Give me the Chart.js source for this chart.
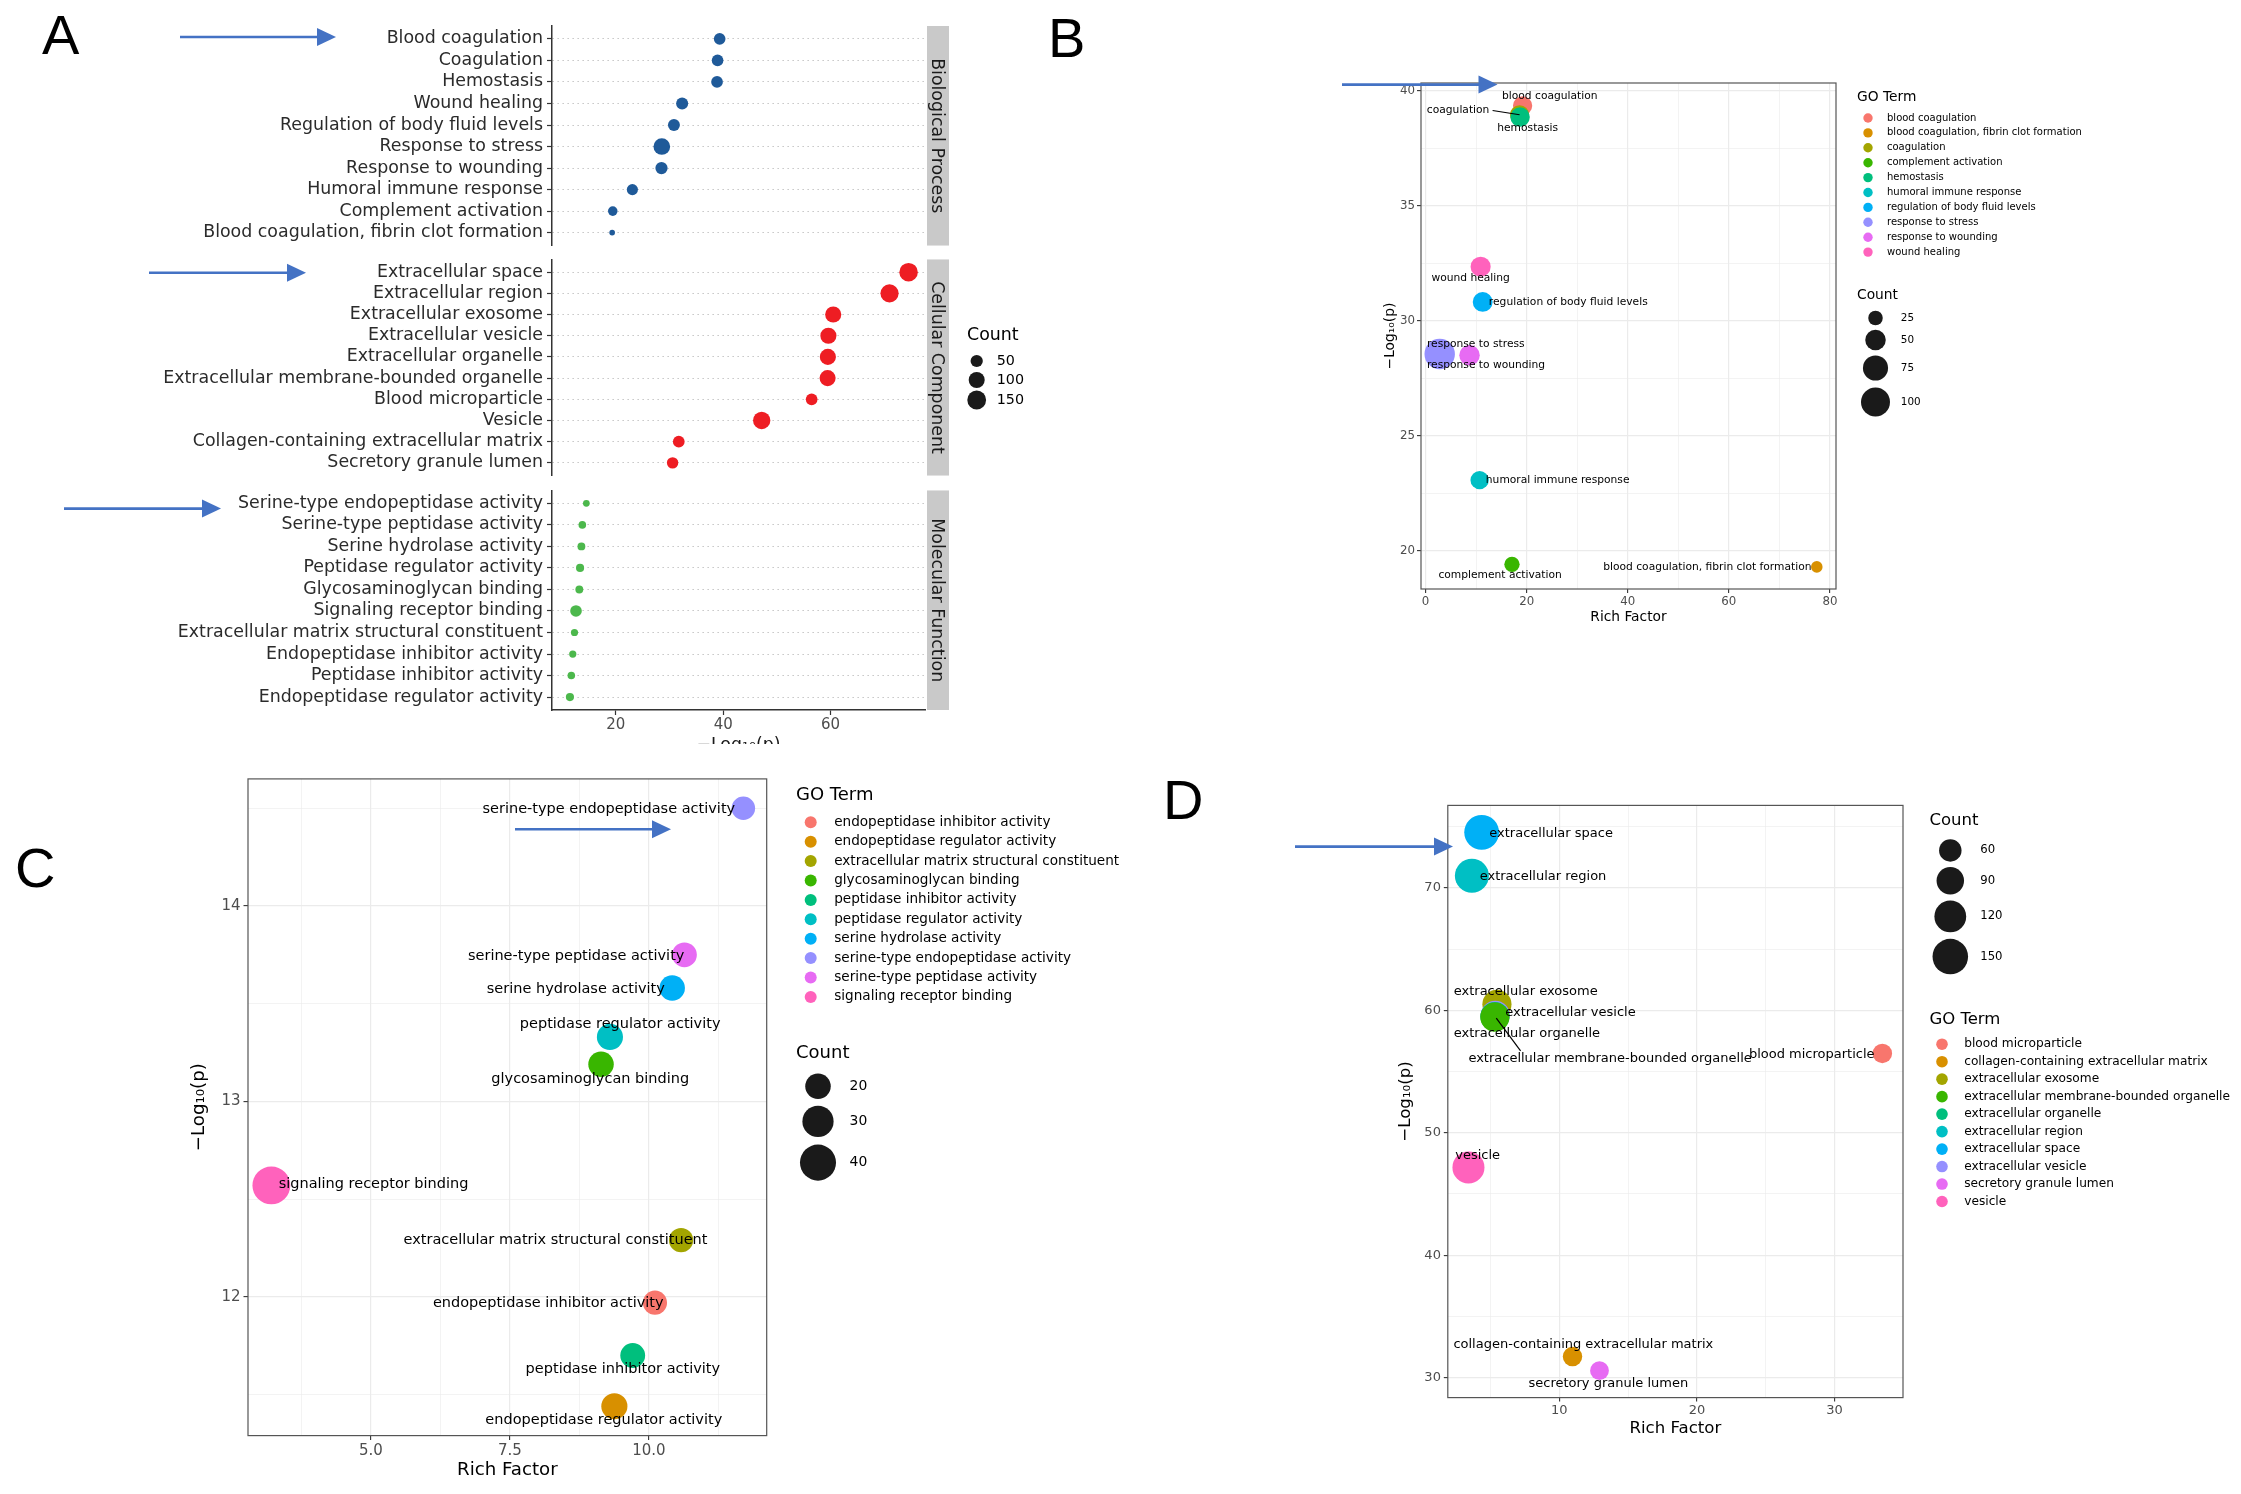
<!DOCTYPE html>
<html><head><meta charset="utf-8">
<script src="https://cdn.jsdelivr.net/npm/chart.js@4.4.1/dist/chart.umd.min.js"></script>
<style>
html,body{margin:0;padding:0;background:#fff;}
body{width:2241px;height:1494px;position:relative;overflow:hidden;font-family:"DejaVu Sans";}
canvas{position:absolute;}
.wrap{position:absolute;overflow:hidden;}
.letter{position:absolute;font-family:"Liberation Sans",Arial,sans-serif;font-size:56px;line-height:1;color:#000;}
svg{position:absolute;left:0;top:0;}
</style></head><body>
<div class="letter" style="left:42px;top:7px">A</div>
<div class="letter" style="left:1048px;top:10px">B</div>
<div class="letter" style="left:15px;top:840px">C</div>
<div class="letter" style="left:1163px;top:772px">D</div>
<script>
// ---------------- DATA ----------------
const facetNames = ["Biological Process","Cellular Component","Molecular Function"];

const bpTerms = ["Blood coagulation","Coagulation","Hemostasis","Wound healing","Regulation of body fluid levels","Response to stress","Response to wounding","Humoral immune response","Complement activation","Blood coagulation, fibrin clot formation"];
const bpLogP  = [39.34, 38.95, 38.85, 32.35, 30.82, 28.56, 28.50, 23.08, 19.42, 19.31];
const bpRich  = [19.2, 18.6, 18.7, 10.9, 11.3, 2.8, 8.7, 10.7, 17.1, 77.4];
const bpCount = [44, 44, 45, 48, 47, 110, 50, 40, 28, 16];

const ccTerms = ["Extracellular space","Extracellular region","Extracellular exosome","Extracellular vesicle","Extracellular organelle","Extracellular membrane-bounded organelle","Blood microparticle","Vesicle","Collagen-containing extracellular matrix","Secretory granule lumen"];
const ccLogP  = [74.54, 70.99, 60.50, 59.60, 59.50, 59.45, 56.48, 47.17, 31.72, 30.57];
const ccRich  = [4.36, 3.65, 5.47, 5.35, 5.32, 5.32, 33.47, 3.40, 10.96, 12.92];
const ccCount = [144, 138, 101, 101, 101, 101, 45, 122, 45, 42];

const mfTerms = ["Serine-type endopeptidase activity","Serine-type peptidase activity","Serine hydrolase activity","Peptidase regulator activity","Glycosaminoglycan binding","Signaling receptor binding","Extracellular matrix structural constituent","Endopeptidase inhibitor activity","Peptidase inhibitor activity","Endopeptidase regulator activity"];
const mfLogP  = [14.50, 13.75, 13.58, 13.33, 13.19, 12.57, 12.29, 11.97, 11.70, 11.44];
const mfRich  = [11.70, 10.64, 10.42, 9.30, 9.14, 3.21, 10.58, 10.11, 9.71, 9.38];
const mfCount = [17, 19, 20, 21, 20, 44, 18, 18, 19, 21];

const countBreaksA = [50, 100, 150];
const countBreaksB = [25, 50, 75, 100];
const countBreaksC = [20, 30, 40];
const countBreaksD = [60, 90, 120, 150];

// ---------------- STYLE ----------------
const FONT = "DejaVu Sans";
const fnt = s => s + 'px "DejaVu Sans"';
Chart.defaults.font.family = FONT;
const hue10 = ["#F8766D","#D89000","#A3A500","#39B600","#00BF7D","#00BFC4","#00B0F6","#9590FF","#E76BF3","#FF62BC"];
const facetColors = ["#1F5A99","#EE1D23","#4CB84C"];
const rA = c => 2.8 + 6.6 * Math.sqrt(Math.max(0, c - 16) / 134);
const rB = c => 1.45 * Math.sqrt(c);
const rC = c => 2.85 * Math.sqrt(c);
const rD = c => 1.45 * Math.sqrt(c);

function mkCanvas(l, t, w, h, parent) {
  const c = document.createElement('canvas');
  c.width = w; c.height = h;
  c.style.left = l + 'px'; c.style.top = t + 'px';
  c.style.width = w + 'px'; c.style.height = h + 'px';
  (parent || document.body).appendChild(c);
  return c;
}

function legendPlugin(id, spec, off) {
  return { id, afterDraw(chart) {
    const ctx = chart.ctx; ctx.save();
    spec.forEach(it => {
      if (it.t === 'text') {
        ctx.font = it.font; ctx.fillStyle = it.color || '#000';
        ctx.textAlign = 'left'; ctx.textBaseline = 'middle';
        ctx.fillText(it.s, it.x - off.l, it.y - off.t);
      } else {
        ctx.beginPath(); ctx.arc(it.x - off.l, it.y - off.t, it.r, 0, Math.PI * 2);
        ctx.fillStyle = it.color; ctx.fill();
      }
    });
    ctx.restore();
  }};
}

function stripPlugin(text) {
  return { id: 'strip', afterDraw(chart) {
    const ctx = chart.ctx, a = chart.chartArea;
    ctx.save();
    ctx.fillStyle = '#C9C9C9';
    ctx.fillRect(a.right + 2, a.top, 22, a.bottom - a.top);
    ctx.translate(a.right + 13, (a.top + a.bottom) / 2);
    ctx.rotate(Math.PI / 2);
    ctx.font = fnt(17.4); ctx.fillStyle = '#1A1A1A';
    ctx.textAlign = 'center'; ctx.textBaseline = 'middle';
    ctx.fillText(text, 0, 1);
    ctx.restore();
  }};
}

// ---------------- PANEL A (three facets) ----------------
const A_XMIN = 8.1, A_XMAX = 77.6;
function facet(canvas, k, terms, logp, counts, o) {
  const extra = [stripPlugin(facetNames[k])];
  if (o.legend) extra.push(o.legend);
  return new Chart(canvas, {
    type: 'scatter',
    data: { datasets: [{ data: terms.map((t, i) => ({ x: logp[i], y: i + 1 })),
      backgroundColor: facetColors[k], borderWidth: 0,
      pointRadius: counts.map(rA), pointHoverRadius: counts.map(rA), clip: false }] },
    options: {
      responsive: false, animation: false, events: [],
      layout: { padding: { left: 0, right: 115, top: o.padT, bottom: o.padB } },
      plugins: { legend: { display: false }, tooltip: { enabled: false } },
      scales: {
        x: {
          type: 'linear', min: A_XMIN, max: A_XMAX, display: o.showX, position: 'bottom',
          afterFit: s => { s.height = o.showX ? 46 : 0; },
          ticks: { stepSize: 20, includeBounds: false, autoSkip: false, maxRotation: 0, padding: 1, color: '#4D4D4D', font: { size: 15 } },
          grid: { drawOnChartArea: false, drawTicks: true, tickLength: 5, tickColor: '#333', tickWidth: 1.2 },
          border: { display: true, color: '#333', width: 1.5 },
          title: { display: true, text: '−Log₁₀(p)', color: '#1A1A1A', font: { size: 17.4 }, padding: 0 }
        },
        y: {
          type: 'linear', min: 0.4, max: 10.6, reverse: true,
          afterFit: s => { s.width = 552; },
          ticks: { stepSize: 1, includeBounds: false, autoSkip: false, padding: 4, color: '#2B2B2B', font: { size: 17.4 },
                   callback: v => terms[Math.round(v) - 1] },
          grid: { color: '#BDBDBD', lineWidth: 1, tickLength: 5, tickColor: '#333', tickWidth: 1.2 },
          border: { display: true, color: '#333', width: 1.5, dash: [1.3, 3.7] }
        }
      }
    },
    plugins: extra
  });
}

// chart areas: BP 26-248, CC 257-478, MF 488-710 (page px)
const cA1 = mkCanvas(0, 0, 1040, 260);
const cA2 = mkCanvas(0, 245, 1040, 245);
const wrapA3 = document.createElement('div');
wrapA3.className = 'wrap';
Object.assign(wrapA3.style, { left: '0px', top: '476px', width: '1040px', height: '268px' });
document.body.appendChild(wrapA3);
const cA3 = mkCanvas(0, 0, 1040, 280, wrapA3);

const legA = [{ t: 'text', s: 'Count', x: 967, y: 335, font: fnt(17.4) }];
const legAy = [361, 380, 400];
countBreaksA.forEach((c, i) => {
  legA.push({ t: 'dot', x: 976.7, y: legAy[i], r: rA(c), color: '#1A1A1A' });
  legA.push({ t: 'text', s: String(c), x: 996.7, y: legAy[i], font: fnt(14.3) });
});

facet(cA1, 0, bpTerms, bpLogP, bpCount, { padT: 26, padB: 12, showX: false });
facet(cA2, 1, ccTerms, ccLogP, ccCount, { padT: 12, padB: 12, showX: false, legend: legendPlugin('legA', legA, { l: 0, t: 245 }) });
facet(cA3, 2, mfTerms, mfLogP, mfCount, { padT: 12, padB: 0, showX: true });

// ---------------- PANELS B, C, D ----------------
const isMaj = (v, m) => Math.abs(v / m - Math.round(v / m)) < 1e-6;

function borderPlugin() {
  return { id: 'pborder', afterDatasetsDraw(chart) {
    const ctx = chart.ctx, a = chart.chartArea;
    ctx.save(); ctx.strokeStyle = '#555'; ctx.lineWidth = 1.2;
    ctx.strokeRect(a.left, a.top, a.right - a.left, a.bottom - a.top);
    ctx.restore();
  }};
}
function labelPlugin(names, offs, leaders, font) {
  return { id: 'plabels', afterDatasetsDraw(chart) {
    const ctx = chart.ctx, pts = chart.getDatasetMeta(0).data;
    ctx.save();
    ctx.strokeStyle = '#000'; ctx.lineWidth = 1.2;
    leaders.forEach(L => {
      const p = pts[L[0]];
      ctx.beginPath(); ctx.moveTo(p.x + L[1], p.y + L[2]); ctx.lineTo(p.x + L[3], p.y + L[4]); ctx.stroke();
    });
    ctx.font = font; ctx.fillStyle = '#000'; ctx.textBaseline = 'middle';
    names.forEach((n, i) => {
      const o = offs[i];
      ctx.textAlign = o[2] || 'left';
      ctx.fillText(n, pts[i].x + o[0], pts[i].y + o[1]);
    });
    ctx.restore();
  }};
}

function scatterPanel(box, P) {
  const cv = mkCanvas(box.l, box.t, box.w, box.h);
  const names = P.terms.map(t => t.toLowerCase());
  const sorted = names.slice().sort();
  const colors = names.map(n => hue10[sorted.indexOf(n)]);
  const radii = P.counts.map(P.r);
  const axis = (ax, isX) => ({
    type: 'linear', min: ax.min, max: ax.max, position: isX ? 'bottom' : 'left',
    afterFit: isX ? (s => { s.height = P.xH; }) : (s => { s.width = P.yW; }),
    ticks: { stepSize: ax.step, includeBounds: false, autoSkip: false, maxRotation: 0, maxTicksLimit: 40,
             padding: ax.pad, color: '#4D4D4D', font: { size: P.tick },
             callback: v => isMaj(v, ax.major) ? ax.fmt(v) : '' },
    grid: { color: '#EBEBEB',
            lineWidth: c => (c.tick && isMaj(c.tick.value, ax.major)) ? 1.2 : 0.6,
            tickLength: ax.tl, tickWidth: 1.1,
            tickColor: c => (c.tick && isMaj(c.tick.value, ax.major)) ? '#333' : 'rgba(0,0,0,0)' },
    border: { display: false },
    title: { display: true, text: ax.title, color: '#000', font: { size: P.titleSize }, padding: 0 }
  });
  const spec = [];
  P.legendOrder.forEach(part => {
    if (part === 'go') {
      const g = P.goLeg;
      spec.push({ t: 'text', s: 'GO Term', x: g.x, y: g.y, font: fnt(P.legTitle) });
      sorted.forEach((n, i) => {
        spec.push({ t: 'dot', x: g.dx, y: g.y0 + g.step * i, r: g.r, color: hue10[i] });
        spec.push({ t: 'text', s: n, x: g.tx, y: g.y0 + g.step * i, font: fnt(P.legText) });
      });
    } else {
      const c = P.cntLeg;
      spec.push({ t: 'text', s: 'Count', x: c.x, y: c.y, font: fnt(P.legTitle) });
      P.breaks.forEach((b, i) => {
        spec.push({ t: 'dot', x: c.dx, y: c.ys[i], r: P.r(b), color: '#1A1A1A' });
        spec.push({ t: 'text', s: String(b), x: c.tx, y: c.ys[i], font: fnt(P.cntText) });
      });
    }
  });
  return new Chart(cv, {
    type: 'scatter',
    data: { datasets: [{ data: P.terms.map((t, i) => ({ x: P.rich[i], y: P.logp[i] })),
      backgroundColor: colors, borderWidth: 0, pointRadius: radii, pointHoverRadius: radii, clip: false }] },
    options: {
      responsive: false, animation: false, events: [],
      layout: { padding: P.pad },
      plugins: { legend: { display: false }, tooltip: { enabled: false } },
      scales: { x: axis(P.x, true), y: axis(P.y, false) }
    },
    plugins: [borderPlugin(), labelPlugin(names, P.offs, P.leaders, fnt(P.labelSize)), legendPlugin('leg', spec, box)]
  });
}

// Panel B
scatterPanel({ l: 1300, t: 40, w: 941, h: 620 }, {
  terms: bpTerms, logp: bpLogP, rich: bpRich, counts: bpCount, r: rB, breaks: countBreaksB,
  pad: { left: 81.7, right: 405, top: 43, bottom: 34.7 }, yW: 39.3, xH: 36.3,
  tick: 11.8, titleSize: 13.8, labelSize: 10.7, legTitle: 13.8, legText: 10, cntText: 10.4,
  x: { min: -0.9, max: 81.2, step: 10, major: 20, fmt: v => String(v), tl: 4, pad: 1.6, title: 'Rich Factor' },
  y: { min: 18.35, max: 40.33, step: 2.5, major: 5, fmt: v => String(v), tl: 4, pad: 2, title: '−Log₁₀(p)' },
  offs: [[-20.6, -9.9], [-92.7, -4.3], [-22.8, 10.8], [-49.2, 11.6], [6.2, 0], [-12.8, -9.6], [-42.6, 10.1], [6.2, 0.6], [-73.6, 10.8], [-5.3, 0.4, 'right']],
  leaders: [[1, -27, -4.3, 0, 0]],
  legendOrder: ['go', 'cnt'],
  goLeg: { x: 1857, y: 97, dx: 1868, tx: 1887, y0: 118, step: 14.9, r: 4.7 },
  cntLeg: { x: 1857, y: 295, dx: 1875.5, tx: 1900.8, ys: [318, 340, 368, 402] }
});

// Panel C
scatterPanel({ l: 150, t: 760, w: 1000, h: 734 }, {
  terms: mfTerms, logp: mfLogP, rich: mfRich, counts: mfCount, r: rC, breaks: countBreaksC,
  pad: { left: 38.7, right: 383.3, top: 17, bottom: 12.4 }, yW: 59.3, xH: 46,
  tick: 15, titleSize: 18.2, labelSize: 14.5, legTitle: 18, legText: 13.6, cntText: 13.9,
  x: { min: 2.79, max: 12.12, step: 1.25, major: 2.5, fmt: v => v.toFixed(1), tl: 4.5, pad: 1.9, title: 'Rich Factor' },
  y: { min: 11.29, max: 14.65, step: 0.5, major: 1, fmt: v => String(v), tl: 4.5, pad: 3, title: '−Log₁₀(p)' },
  offs: [[-8.2, 0.6, 'right'], [0, 1, 'right'], [-7.3, 1.4, 'right'], [-90.1, -12.7], [-109.7, 15.3], [7.3, -0.7], [26.4, -0.3, 'right'], [8.6, 0.6, 'right'], [-107.1, 14.2], [-129, 13.6]],
  leaders: [],
  legendOrder: ['go', 'cnt'],
  goLeg: { x: 796, y: 795, dx: 810.7, tx: 834.2, y0: 822.3, step: 19.4, r: 6 },
  cntLeg: { x: 796, y: 1053, dx: 818, tx: 849.6, ys: [1086.3, 1121.4, 1162.6] }
});

// Panel D
scatterPanel({ l: 1150, t: 760, w: 1091, h: 734 }, {
  terms: ccTerms, logp: ccLogP, rich: ccRich, counts: ccCount, r: rD, breaks: countBreaksD,
  pad: { left: 246, right: 338, top: 45.4, bottom: 55.5 }, yW: 51.8, xH: 40.9,
  tick: 13, titleSize: 16.6, labelSize: 13, legTitle: 16.5, legText: 12.2, cntText: 11.7,
  x: { min: 1.9, max: 34.97, step: 5, major: 10, fmt: v => String(v), tl: 4, pad: 1.3, title: 'Rich Factor' },
  y: { min: 28.37, max: 76.74, step: 5, major: 10, fmt: v => String(v), tl: 4, pad: 2.9, title: '−Log₁₀(p)' },
  offs: [[7.6, 0.9], [7.8, 0.9], [-43.2, -12.3], [10, -2.7], [-41.1, 16.7], [-26.5, 41.7], [-7.8, 1.1, 'right'], [-13.2, -12.2], [-119.1, -11.8], [-71, 12.5]],
  leaders: [[5, 1.4, 1, 25.7, 33.8]],
  legendOrder: ['cnt', 'go'],
  goLeg: { x: 1929.4, y: 1019.8, dx: 1942, tx: 1964.2, y0: 1044.2, step: 17.48, r: 5.8 },
  cntLeg: { x: 1929.4, y: 820.9, dx: 1950.3, tx: 1980.2, ys: [850.4, 880.8, 916.4, 956.6] }
});

// ---------------- ANNOTATION ARROWS ----------------
const arrows = [[180, 336, 37], [149, 306, 272.7], [64, 221, 508.6], [1342, 1497.5, 84.6], [515, 671, 829.3], [1295, 1453, 846.6]];
const NS = 'http://www.w3.org/2000/svg';
const svg = document.createElementNS(NS, 'svg');
svg.setAttribute('width', 2241); svg.setAttribute('height', 1494);
arrows.forEach(([x1, x2, y]) => {
  const ln = document.createElementNS(NS, 'line');
  ln.setAttribute('x1', x1); ln.setAttribute('x2', x2 - 16); ln.setAttribute('y1', y); ln.setAttribute('y2', y);
  ln.setAttribute('stroke', '#4472C4'); ln.setAttribute('stroke-width', 2.6);
  svg.appendChild(ln);
  const pg = document.createElementNS(NS, 'polygon');
  pg.setAttribute('points', `${x2 - 19},${y - 9} ${x2},${y} ${x2 - 19},${y + 9}`);
  pg.setAttribute('fill', '#4472C4');
  svg.appendChild(pg);
});
document.body.appendChild(svg);
</script>
</body></html>
